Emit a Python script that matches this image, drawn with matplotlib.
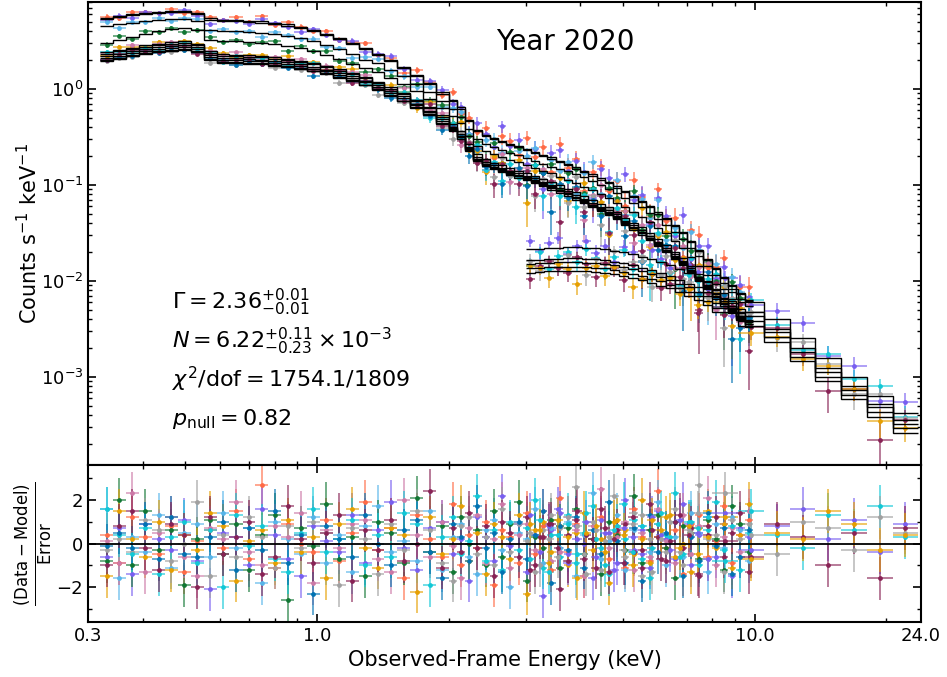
import numpy as np
import matplotlib
matplotlib.use("Agg")
import matplotlib.pyplot as plt
from matplotlib.colors import to_rgba
from matplotlib.ticker import FixedLocator, FixedFormatter, NullFormatter, LogLocator, MultipleLocator

# ---- soft band (0.3-10 keV) spectra ----
soft_edges = [0.320, 0.342, 0.366, 0.392, 0.420, 0.450, 0.481, 0.515, 0.551, 0.590,
              0.631, 0.676, 0.723, 0.774, 0.828, 0.887, 0.949, 1.015, 1.087, 1.163,
              1.245, 1.333, 1.426, 1.527, 1.634, 1.749, 1.872, 2.000,
              2.088, 2.181, 2.277, 2.378, 2.483, 2.592, 2.707, 2.826, 2.951, 3.082,
              3.218, 3.360, 3.508, 3.663, 3.825, 3.994, 4.171, 4.355, 4.547, 4.748,
              4.958, 5.177, 5.406, 5.645, 5.894, 6.154, 6.426, 6.710, 7.007, 7.316,
              7.640, 7.977, 8.330, 8.698, 9.082, 9.483, 9.902]
soft_relerr = [0.06, 0.055, 0.05, 0.045, 0.045, 0.045, 0.045, 0.05,
               0.05, 0.05, 0.05, 0.05, 0.05, 0.05, 0.05, 0.055,
               0.055, 0.06, 0.06, 0.065, 0.065, 0.07, 0.075, 0.08,
               0.085, 0.09, 0.10, 0.12, 0.14, 0.16, 0.18, 0.19,
               0.20, 0.21, 0.21, 0.22, 0.22, 0.23, 0.23, 0.24,
               0.24, 0.25, 0.25, 0.26, 0.26, 0.27, 0.27, 0.28,
               0.28, 0.29, 0.29, 0.30, 0.30, 0.31, 0.31, 0.32,
               0.32, 0.33, 0.33, 0.34, 0.34, 0.34, 0.34, 0.34]

# folded model, counts s^-1 keV^-1 per bin
soft_tomato = [5.5, 5.7, 5.95, 6.2, 6.35, 6.45, 6.5, 6.2,
               5.4, 5.2, 5.18, 5.12, 5.02, 4.88, 4.68, 4.42,
               4.1, 3.75, 3.38, 3.0, 2.64, 2.3, 1.98, 1.68,
               1.40, 1.15, 0.92, 0.76, 0.64, 0.47, 0.37, 0.33,
               0.305, 0.285, 0.268, 0.252, 0.236, 0.221, 0.206, 0.192,
               0.178, 0.165, 0.152, 0.140, 0.128, 0.117, 0.106, 0.096,
               0.086, 0.077, 0.068, 0.060, 0.052, 0.045, 0.038, 0.032,
               0.026, 0.021, 0.0168, 0.0135, 0.0110, 0.0090, 0.0075, 0.0063]
soft_purple = [5.35, 5.55, 5.8, 6.0, 6.15, 6.25, 6.3, 6.0,
               5.25, 5.05, 5.02, 4.97, 4.87, 4.73, 4.54, 4.29,
               3.98, 3.64, 3.28, 2.91, 2.56, 2.23, 1.92, 1.63,
               1.36, 1.12, 0.89, 0.74, 0.62, 0.46, 0.36, 0.32,
               0.296, 0.276, 0.26, 0.244, 0.229, 0.214, 0.2, 0.186,
               0.173, 0.16, 0.147, 0.136, 0.124, 0.113, 0.103, 0.093,
               0.083, 0.075, 0.066, 0.058, 0.050, 0.044, 0.037, 0.031,
               0.025, 0.0204, 0.0163, 0.0131, 0.0107, 0.0087, 0.0073, 0.0061]
soft_lightblue = [4.5, 4.67, 4.88, 5.08, 5.2, 5.29, 5.33, 5.08,
                  4.1, 3.95, 3.94, 3.89, 3.82, 3.71, 3.56, 3.36,
                  3.12, 2.85, 2.57, 2.28, 2.01, 1.84, 1.58, 1.34,
                  1.12, 0.92, 0.74, 0.61, 0.51, 0.376, 0.296, 0.264,
                  0.244, 0.228, 0.214, 0.202, 0.189, 0.177, 0.165, 0.154,
                  0.145, 0.138, 0.129, 0.119, 0.109, 0.099, 0.090, 0.082,
                  0.073, 0.065, 0.058, 0.051, 0.044, 0.038, 0.032, 0.027,
                  0.022, 0.0179, 0.0143, 0.0115, 0.0094, 0.0077, 0.0064, 0.0054]
soft_green = [3.0, 3.2, 3.45, 3.7, 3.95, 4.15, 4.25, 4.05,
              3.24, 3.12, 3.11, 3.07, 3.01, 2.93, 2.81, 2.65,
              2.46, 2.25, 2.03, 1.80, 1.64, 1.48, 1.30, 1.12,
              0.95, 0.78, 0.63, 0.52, 0.435, 0.32, 0.252, 0.224,
              0.207, 0.194, 0.182, 0.171, 0.160, 0.150, 0.140, 0.131,
              0.121, 0.112, 0.103, 0.095, 0.087, 0.080, 0.072, 0.065,
              0.058, 0.052, 0.046, 0.041, 0.035, 0.031, 0.026, 0.0218,
              0.0177, 0.0143, 0.0114, 0.0092, 0.0075, 0.0061, 0.0051, 0.0043]
soft_orange = [2.4, 2.52, 2.66, 2.82, 2.94, 3.04, 3.1, 2.94,
               2.46, 2.28, 2.26, 2.23, 2.2, 2.14, 2.05, 1.96,
               1.85, 1.73, 1.6, 1.46, 1.32, 1.18, 1.03, 0.9,
               0.77, 0.65, 0.53, 0.43, 0.36, 0.265, 0.207, 0.184,
               0.17, 0.16, 0.15, 0.14, 0.131, 0.123, 0.114, 0.106,
               0.098, 0.091, 0.083, 0.076, 0.069, 0.063, 0.058, 0.052,
               0.045, 0.040, 0.036, 0.031, 0.027, 0.0233, 0.020, 0.0173,
               0.0143, 0.0117, 0.0097, 0.0079, 0.0066, 0.0054, 0.0046, 0.0039]
soft_pink = [2.32, 2.44, 2.58, 2.73, 2.84, 2.93, 2.99, 2.84,
             2.38, 2.2, 2.18, 2.16, 2.12, 2.06, 1.98, 1.89,
             1.79, 1.67, 1.54, 1.42, 1.28, 1.14, 1.0, 0.87,
             0.74, 0.63, 0.51, 0.40, 0.335, 0.248, 0.194, 0.173,
             0.16, 0.15, 0.14, 0.132, 0.123, 0.116, 0.107, 0.099,
             0.092, 0.085, 0.078, 0.071, 0.065, 0.059, 0.054, 0.049,
             0.042, 0.038, 0.0335, 0.029, 0.0254, 0.0219, 0.0188, 0.0162,
             0.0134, 0.011, 0.0091, 0.0075, 0.0062, 0.0051, 0.0043, 0.0037]
soft_maroon = [2.1, 2.2, 2.33, 2.47, 2.57, 2.66, 2.71, 2.57,
               2.15, 2.0, 1.97, 1.95, 1.92, 1.87, 1.8, 1.71,
               1.62, 1.51, 1.4, 1.28, 1.16, 1.03, 0.9, 0.79,
               0.67, 0.57, 0.46, 0.36, 0.30, 0.223, 0.175, 0.155,
               0.144, 0.135, 0.126, 0.118, 0.111, 0.104, 0.096, 0.089,
               0.082, 0.077, 0.070, 0.064, 0.058, 0.053, 0.0485, 0.0437,
               0.0378, 0.034, 0.030, 0.0262, 0.0228, 0.0197, 0.0169, 0.0146,
               0.012, 0.0099, 0.0081, 0.0067, 0.0055, 0.0046, 0.0039, 0.0033]
soft_cyan = [2.2, 2.31, 2.44, 2.59, 2.7, 2.78, 2.84, 2.7,
             2.26, 2.09, 2.07, 2.05, 2.01, 1.96, 1.88, 1.79,
             1.69, 1.58, 1.46, 1.34, 1.21, 1.08, 0.95, 0.83,
             0.7, 0.59, 0.48, 0.385, 0.322, 0.239, 0.187, 0.166,
             0.154, 0.145, 0.135, 0.127, 0.119, 0.111, 0.103, 0.096,
             0.088, 0.082, 0.075, 0.069, 0.062, 0.057, 0.052, 0.047,
             0.0406, 0.0364, 0.0322, 0.0281, 0.0244, 0.0211, 0.0181, 0.0156,
             0.0129, 0.0106, 0.0087, 0.0072, 0.0059, 0.0049, 0.0042, 0.0035]
soft_gray = [1.96, 2.06, 2.18, 2.3, 2.4, 2.48, 2.53, 2.4,
             2.01, 1.86, 1.84, 1.82, 1.79, 1.74, 1.68, 1.6,
             1.51, 1.41, 1.3, 1.2, 1.08, 0.96, 0.84, 0.735,
             0.627, 0.529, 0.431, 0.377, 0.316, 0.235, 0.184, 0.163,
             0.151, 0.142, 0.133, 0.124, 0.116, 0.109, 0.101, 0.094,
             0.087, 0.081, 0.073, 0.067, 0.061, 0.056, 0.051, 0.046,
             0.0398, 0.0357, 0.0316, 0.0275, 0.024, 0.0207, 0.0177, 0.0153,
             0.0126, 0.0104, 0.0086, 0.007, 0.0058, 0.0048, 0.0041, 0.0035]
soft_blue = [2.0, 2.1, 2.22, 2.35, 2.45, 2.53, 2.58, 2.45,
             2.05, 1.9, 1.88, 1.86, 1.83, 1.78, 1.71, 1.63,
             1.54, 1.44, 1.33, 1.22, 1.10, 0.98, 0.86, 0.75,
             0.64, 0.54, 0.44, 0.37, 0.31, 0.23, 0.18, 0.16,
             0.148, 0.139, 0.130, 0.122, 0.114, 0.107, 0.099, 0.092,
             0.085, 0.079, 0.072, 0.066, 0.060, 0.055, 0.050, 0.045,
             0.039, 0.035, 0.031, 0.027, 0.0235, 0.0203, 0.0174, 0.0150,
             0.0124, 0.0102, 0.0084, 0.0069, 0.0057, 0.0047, 0.0040, 0.0034]

# (data - model) / error per bin
res_tomato = [0.4, -0.9, 1.2, 0.3, -0.5, 0.8, -1.3, 0.1,
              0.6, -0.2, 1.5, -0.7, 2.7, -1.1, 0.9, 0.0,
              -0.4, 1.1, -0.8, 0.5, 1.9, -0.3, 0.7, -1.6,
              1.3, 0.2, -0.6, 1.8, -1.0, 0.4, -0.2, 1.0,
              -1.9, 0.6, 0.3, -0.9, 1.4, -0.5, 0.8, -1.2,
              2.1, -0.4, 0.9, -1.5, 0.2, 1.2, -0.7, 0.5,
              -1.1, 1.6, 0.3, -0.8, 2.4, -0.2, 0.6, -1.4,
              0.9, 1.3, -0.6, 0.1, 1.7, -0.9, 0.4, 1.1]
res_purple = [-0.6, 0.7, -1.4, 0.9, 0.2, -0.3, 1.1, -0.8,
              -2.1, 0.5, 0.3, -1.0, 1.6, 0.4, -0.7, -1.5,
              0.8, 0.1, -0.4, 1.3, -0.9, 0.6, 1.9, -0.2,
              -1.2, 0.7, 1.0, -0.5, 0.2, -1.7, 1.2, 0.3,
              -0.8, 2.2, -0.1, 0.9, -1.3, 0.4, -2.4, 0.6,
              1.4, -0.5, 0.8, 0.0, -1.6, 1.1, 0.5, -0.9,
              2.0, -0.3, 0.6, -1.1, 1.5, 0.2, -0.7, 1.8,
              -1.0, 0.4, 1.2, -0.6, 0.9, -1.5, 0.7, 0.3]
res_lightblue = [1.6, -1.6, 0.3, -0.4, 1.3, -1.1, 0.5, 0.9,
                 -0.6, 1.4, -0.2, 0.7, -1.8, 1.0, 0.2, -0.5,
                 1.2, -0.9, 0.4, -1.3, 0.8, 1.7, -0.4, 0.1,
                 -0.8, 1.5, -1.2, 0.3, 0.9, -0.6, -1.4, 0.6,
                 1.1, -0.3, -2.0, 0.5, 0.2, 1.6, -0.9, 0.7,
                 -0.2, 1.0, -1.5, 0.4, 2.3, -0.7, 0.1, 1.3,
                 -1.2, 0.6, 0.8, -0.4, 1.9, -1.0, 0.3, -0.6,
                 1.4, 0.5, -1.3, 0.9, -0.2, 1.2, 0.6, -0.8]
res_green = [-0.8, 2.0, -1.0, 1.5, -0.3, 0.6, -1.9, 0.2,
             1.1, -0.5, 0.9, -1.2, 0.4, 1.3, -2.6, 0.7,
             -0.1, 1.8, -0.7, 0.3, -1.5, 1.0, 0.5, -0.9,
             2.1, -0.4, 0.8, -1.3, 1.2, 0.0, 0.6, -1.0,
             1.5, -0.6, 0.9, 1.9, -1.7, 0.3, -0.2, 1.1,
             -1.1, 0.7, 1.6, -0.5, 0.2, -1.4, 1.0, 0.4,
             -0.3, 2.2, -0.9, 0.6, 1.3, -0.2, -1.6, 0.8,
             0.5, -0.7, 1.1, 0.2, -1.2, 1.7, 0.9, -0.4]
res_orange = [-1.5, 1.5, 0.2, -0.6, 1.0, -1.2, 0.4, -0.3,
              1.4, 0.8, -1.7, 0.1, 0.6, -0.9, 1.1, -0.4,
              0.3, -1.6, 0.9, 1.6, -0.2, -1.1, 0.7, 0.4,
              -2.2, 1.2, -0.5, 0.2, 1.7, -0.8, 0.5, -1.4,
              0.9, 0.3, -0.7, 1.3, -2.3, 0.6, 1.0, -0.4,
              0.8, -1.0, 0.5, 1.4, -0.3, 0.2, -1.8, 1.1,
              0.6, -0.5, 2.0, -0.9, 0.3, 1.2, -0.6, 0.0,
              -1.3, 0.7, 1.5, -0.2, 0.9, -1.1, 0.4, 1.8]
res_pink = [0.1, -0.9, 2.3, -1.3, 0.5, 1.2, -0.6, -1.5,
            0.7, 0.2, 1.9, -0.4, -1.0, 0.8, 0.3, 1.4,
            -1.8, 0.6, -0.2, 0.9, 1.1, -0.7, -1.3, 2.0,
            0.4, -0.6, 1.0, -0.1, -1.6, 0.7, 1.3, -0.9,
            0.2, 1.8, -1.1, 0.4, 0.9, -0.3, 1.5, -0.8,
            -0.4, 1.2, 0.6, -1.5, 0.8, 2.5, -0.2, 0.3,
            1.0, -1.2, 0.5, -0.6, 1.6, 0.1, -0.9, 1.3,
            -0.5, 0.8, 2.1, -1.0, 0.3, 0.7, -0.4, 1.5]
res_maroon = [-1.0, 0.8, 1.5, -0.2, -1.2, 0.9, 0.4, -2.0,
              1.2, -0.5, 0.3, 1.0, -1.4, -0.6, 1.7, 0.2,
              -0.9, 0.5, 1.3, -1.7, 0.6, -0.3, 1.1, -0.8,
              0.0, 2.4, -1.1, 0.7, -0.4, 1.4, -0.2, 0.8,
              -1.5, 1.0, 0.5, -0.6, 1.2, -1.0, 0.3, 0.9,
              -2.1, 0.4, 1.1, -0.7, 0.2, 1.6, -1.3, 0.6,
              0.9, -0.4, -1.1, 1.8, 0.3, -0.8, 1.0, -0.2,
              0.7, -1.5, 0.4, 1.2, -0.6, 0.5, 1.4, -1.3]
res_cyan = [1.6, 0.4, -0.5, 0.7, -1.4, 0.3, 1.0, -0.9,
            0.6, -2.0, 1.3, -0.1, 0.8, -0.7, -1.3, 0.5,
            1.6, -0.4, 0.2, 1.1, -1.0, 0.4, -0.6, 1.4,
            0.9, -1.9, 0.3, 1.2, -0.5, 0.1, 2.2, -0.8,
            0.6, -1.2, 1.0, -0.3, 0.7, 2.0, -1.1, 0.4,
            -0.6, 1.3, -0.9, 0.5, 1.7, -0.2, -1.4, 0.8,
            0.2, 1.1, -0.7, -1.6, 0.9, 0.4, 2.3, -0.5,
            1.0, -1.0, 0.6, 1.9, -0.3, 0.8, -1.2, 0.5]
res_gray = [-0.3, 0.2, -0.4, 1.1, 0.6, -0.8, 0.0, 1.9,
            -1.5, 0.4, -0.6, 1.2, 0.3, -1.1, 0.8, -0.2,
            1.0, 0.5, -1.9, 0.7, 0.2, -1.4, 0.9, -0.3,
            1.5, 0.6, -0.9, -1.7, 0.8, 1.2, -0.5, 0.3,
            -1.0, 1.6, -0.4, 0.9, 0.1, -1.3, 0.6, 1.3,
            0.7, -0.8, 2.6, -0.5, 1.0, -1.2, 0.3, 0.8,
            -0.6, 1.4, -1.5, 0.2, 0.9, -0.4, 1.6, -1.0,
            0.5, 2.7, -0.7, 0.4, -1.3, 1.1, 0.2, 0.9]
res_blue = [-0.1, 0.5, -0.2, 0.9, -0.7, 1.2, -0.5, -0.6,
            0.3, 1.0, -1.2, 0.7, -0.3, 1.5, -0.9, 0.4,
            -2.3, 0.8, 0.2, -0.6, 1.3, 0.0, -1.0, 0.6,
            1.1, -0.4, -1.6, 0.9, 0.3, -0.8, 1.7, -0.2,
            0.5, -1.3, 0.2, 1.0, -0.7, 0.4, 1.5, -1.8,
            0.8, -0.3, 1.2, -1.1, 0.6, -0.5, 1.9, 0.1,
            -0.9, 0.7, -1.7, 1.3, -0.4, 0.5, 1.0, -1.5,
            0.3, -0.8, 1.4, -0.1, 0.7, -1.4, -0.6, 0.6]

# ---- hard band (3-24 keV) spectra ----
hard_edges = [3.000, 3.151, 3.309, 3.476, 3.651, 3.834, 4.027, 4.230, 4.443, 4.666,
              4.901, 5.148, 5.407, 5.679, 5.964, 6.264, 6.580, 6.911, 7.258, 7.623,
              8.007, 9.17, 10.50, 12.02, 13.77, 15.76, 18.05, 20.67, 23.6]
hard_relerr = [0.18, 0.17, 0.17, 0.17, 0.17, 0.17, 0.18, 0.18, 0.19, 0.19,
               0.20, 0.20, 0.21, 0.21, 0.22, 0.22, 0.23, 0.23, 0.24, 0.24,
               0.22, 0.23, 0.25, 0.27, 0.29, 0.30, 0.31, 0.32]

hard_purple = [0.0212, 0.0216, 0.0219, 0.0221, 0.0222, 0.0222, 0.0220, 0.0217, 0.0212, 0.0205,
               0.0197, 0.0188, 0.0178, 0.0167, 0.0156, 0.0145, 0.0133, 0.0121, 0.0110, 0.0099,
               0.0082, 0.0060, 0.0040, 0.0025, 0.00155, 0.00098, 0.00063, 0.00042]
hard_cyan = [0.0163, 0.0166, 0.0169, 0.0170, 0.0171, 0.0171, 0.0169, 0.0167, 0.0163, 0.0158,
             0.0152, 0.0145, 0.0137, 0.0129, 0.0120, 0.0112, 0.0102, 0.0093, 0.0085, 0.0076,
             0.0064, 0.0047, 0.0031, 0.0020, 0.00124, 0.00080, 0.00052, 0.00035]
hard_gray = [0.0148, 0.0151, 0.0153, 0.0155, 0.0155, 0.0155, 0.0154, 0.0152, 0.0148, 0.0144,
             0.0138, 0.0132, 0.0125, 0.0117, 0.0109, 0.0102, 0.0093, 0.0085, 0.0077, 0.0069,
             0.0058, 0.0043, 0.0029, 0.0018, 0.00113, 0.00073, 0.00048, 0.00032]
hard_maroon = [0.0134, 0.0136, 0.0138, 0.0139, 0.0140, 0.0140, 0.0139, 0.0137, 0.0134, 0.0129,
               0.0124, 0.0118, 0.0112, 0.0105, 0.0098, 0.0091, 0.0084, 0.0076, 0.0069, 0.0062,
               0.0052, 0.0038, 0.0026, 0.0016, 0.00100, 0.00065, 0.00043, 0.00029]
hard_orange = [0.0121, 0.0123, 0.0125, 0.0126, 0.0127, 0.0127, 0.0125, 0.0124, 0.0121, 0.0117,
               0.0112, 0.0107, 0.0101, 0.0095, 0.0089, 0.0083, 0.0076, 0.0069, 0.0063, 0.0056,
               0.0047, 0.0034, 0.0023, 0.00145, 0.00090, 0.00058, 0.00038, 0.00026]

hres_purple = [1.3, -0.4, 0.8, 1.6, -0.9, 0.2, 1.0, -0.6, 0.5, -1.2,
               0.7, 0.3, -0.5, 1.2, 0.4, -0.3, 1.1, 0.9, 0.5, -0.7,
               1.4, -0.3, 0.8, 1.6, 0.2, 1.1, -0.4, 0.9]
hres_cyan = [-0.7, 1.1, -1.3, 0.4, 0.9, -0.5, 1.4, 0.2, -1.0, 0.6,
             1.8, -0.4, 0.8, -0.2, 1.4, 0.3, -0.6, 1.0, 0.7, 1.2,
             -0.8, 1.5, 0.4, -0.2, 1.3, 0.6, 1.7, 0.3]
hres_gray = [0.5, -1.0, 0.2, -0.6, 1.2, 0.8, -1.4, 0.6, 0.1, 2.2,
             -0.3, 0.9, 1.3, -1.3, 0.2, 1.0, -0.4, 0.6, 1.4, 0.2,
             2.3, 0.4, -0.5, 1.0, 0.7, -0.3, 1.2, 0.5]
hres_maroon = [-1.2, 0.3, 0.9, -0.2, -0.8, 1.5, 0.4, -1.1, 0.7, 0.2,
               -0.9, 1.2, -0.3, 0.6, -0.7, 0.1, 1.3, 0.4, -1.4, 0.8,
               0.1, -0.6, 0.9, 0.3, -1.0, 0.5, -1.6, 0.7]
hres_orange = [0.9, 0.6, -0.9, 1.1, 0.3, -1.6, 0.5, 0.8, -0.4, 1.0,
               0.4, -1.0, 0.2, 1.1, 0.6, 1.3, -0.2, 0.8, -0.5, 0.3,
               1.2, -0.7, 0.5, 0.2, 1.5, 0.9, -0.3, 0.4]

C_TOMATO = "#FF6A45"
C_PURPLE = "#785EF0"
C_LBLUE = "#56B4E9"
C_GREEN = "#117733"
C_ORANGE = "#E69F00"
C_PINK = "#CC79A7"
C_MAROON = "#882255"
C_CYAN = "#10C8D6"
C_GRAY = "#A0A0A0"
C_BLUE = "#0072B2"

soft_sets = [
    (soft_tomato, res_tomato, C_TOMATO),
    (soft_purple, res_purple, C_PURPLE),
    (soft_lightblue, res_lightblue, C_LBLUE),
    (soft_green, res_green, C_GREEN),
    (soft_orange, res_orange, C_ORANGE),
    (soft_pink, res_pink, C_PINK),
    (soft_gray, res_gray, C_GRAY),
    (soft_cyan, res_cyan, C_CYAN),
    (soft_blue, res_blue, C_BLUE),
    (soft_maroon, res_maroon, C_MAROON),
]
hard_sets = [
    (hard_purple, hres_purple, C_PURPLE),
    (hard_cyan, hres_cyan, C_CYAN),
    (hard_gray, hres_gray, C_GRAY),
    (hard_maroon, hres_maroon, C_MAROON),
    (hard_orange, hres_orange, C_ORANGE),
]


def plot_spectrum(ax, axr, edges, relerr, model, resid, color):
    edges = np.asarray(edges)
    model = np.asarray(model)
    resid = np.asarray(resid)
    err = model * np.asarray(relerr)
    data = model + resid * err
    centers = np.sqrt(edges[:-1] * edges[1:])
    xerr = [centers - edges[:-1], edges[1:] - centers]
    ecol = to_rgba(color, 0.6)

    ax.errorbar(centers, data, xerr=xerr, yerr=err, fmt="none",
                ecolor=ecol, elinewidth=1.4, zorder=2)
    ax.plot(centers, data, "o", ms=2.4, color=color, zorder=2.5)
    ax.stairs(model, edges, baseline=None, color="k", lw=1.0, zorder=4)

    axr.errorbar(centers, resid, xerr=xerr, yerr=1.0, fmt="none",
                 ecolor=ecol, elinewidth=1.4, zorder=2)
    axr.plot(centers, resid, "o", ms=2.4, color=color, zorder=2.5)


fig = plt.figure(figsize=(9.47, 6.77), dpi=100)
ax = fig.add_axes([0.093, 0.3131, 0.8796, 0.6840])
axr = fig.add_axes([0.093, 0.0812, 0.8796, 0.2319], sharex=ax)

for model, resid, color in soft_sets:
    plot_spectrum(ax, axr, soft_edges, soft_relerr, model, resid, color)
for model, resid, color in hard_sets:
    plot_spectrum(ax, axr, hard_edges, hard_relerr, model, resid, color)

axr.axhline(0, color="k", lw=1.3, zorder=5)

ax.set_xscale("log")
ax.set_yscale("log")
ax.set_xlim(0.3, 24.0)
ax.set_ylim(1.2e-4, 8.0)
axr.set_ylim(-3.6, 3.6)

axr.xaxis.set_major_locator(FixedLocator([0.3, 1.0, 10.0, 24.0]))
axr.xaxis.set_major_formatter(FixedFormatter(["0.3", "1.0", "10.0", "24.0"]))
axr.xaxis.set_minor_locator(LogLocator(subs=np.arange(2, 10)))
axr.xaxis.set_minor_formatter(NullFormatter())
axr.yaxis.set_major_locator(MultipleLocator(2))
axr.yaxis.set_minor_locator(MultipleLocator(1))

for a in (ax, axr):
    a.tick_params(which="both", direction="in", top=True, right=True, labelsize=13)
    a.tick_params(which="major", length=6, width=1.2)
    a.tick_params(which="minor", length=3, width=1.0)
    for sp in a.spines.values():
        sp.set_linewidth(1.5)
ax.tick_params(labelbottom=False)

ax.set_ylabel(r"Counts s$^{-1}$ keV$^{-1}$", fontsize=15)
axr.set_ylabel(r"$\frac{(\mathrm{Data}-\mathrm{Model})}{\mathrm{Error}}$", fontsize=17)
axr.set_xlabel("Observed-Frame Energy (keV)", fontsize=15)
ax.yaxis.set_label_coords(-0.056, 0.5)
axr.yaxis.set_label_coords(-0.04, 0.5)

ax.text(0.573, 0.914, "Year 2020", transform=ax.transAxes, fontsize=20,
        ha="center", va="center")
fit_lines = [
    (0.352, r"$\Gamma = 2.36^{+0.01}_{-0.01}$"),
    (0.268, r"$N = 6.22^{+0.11}_{-0.23} \times 10^{-3}$"),
    (0.184, r"$\chi^2/\mathrm{dof} = 1754.1/1809$"),
    (0.100, r"$p_{\mathrm{null}} = 0.82$"),
]
for ypos, txt in fit_lines:
    ax.text(0.101, ypos, txt, transform=ax.transAxes, fontsize=16,
            ha="left", va="center")

fig.savefig("out.png", dpi=100)
